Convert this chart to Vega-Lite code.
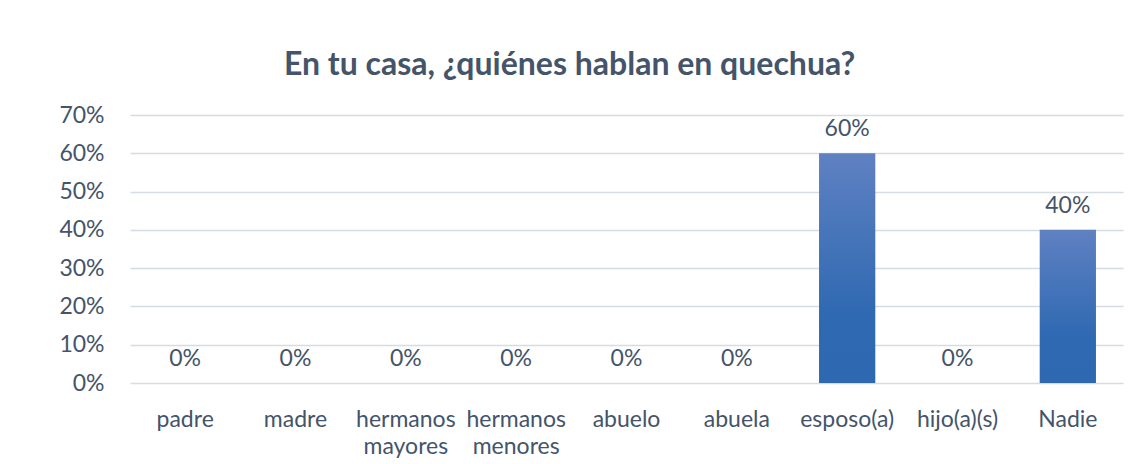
{
  "$schema": "https://vega.github.io/schema/vega-lite/v6.json",
  "width": 993,
  "height": 268,
  "autosize": {"type": "none"},
  "padding": {"left": 130, "top": 115, "right": 16, "bottom": 81},
  "background": "white",
  "title": {
    "text": "En tu casa, ¿quiénes hablan en quechua?",
    "font": "Lato",
    "fontSize": 32,
    "fontWeight": "bold",
    "color": "#44546A",
    "anchor": "middle",
    "dx": -57,
    "offset": 22
  },
  "data": {
    "values": [
      {"cat": "padre", "v": 0},
      {"cat": "madre", "v": 0},
      {"cat": "hermanos mayores", "v": 0},
      {"cat": "hermanos menores", "v": 0},
      {"cat": "abuelo", "v": 0},
      {"cat": "abuela", "v": 0},
      {"cat": "esposo(a)", "v": 0.6},
      {"cat": "hijo(a)(s)", "v": 0},
      {"cat": "Nadie", "v": 0.4}
    ]
  },
  "encoding": {
    "x": {
      "field": "cat",
      "type": "nominal",
      "sort": null,
      "scale": {"paddingInner": 0.49, "paddingOuter": 0.245},
      "axis": {
        "title": null,
        "labelAngle": 0,
        "labelExpr": "split(datum.label, ' ')",
        "labelFont": "Lato",
        "labelFontSize": 23,
        "labelColor": "#44546A",
        "labelPadding": 25,
        "labelLineHeight": 27,
        "labelOverlap": false,
        "labelBound": false,
        "domain": false,
        "ticks": false
      }
    },
    "y": {
      "field": "v",
      "type": "quantitative",
      "scale": {"domain": [0, 0.7]},
      "axis": {
        "title": null,
        "format": ".0%",
        "values": [0, 0.1, 0.2, 0.3, 0.4, 0.5, 0.6, 0.7],
        "labelFont": "Lato",
        "labelFontSize": 23,
        "labelColor": "#44546A",
        "labelPadding": 26,
        "labelOverlap": false,
        "domain": false,
        "ticks": false,
        "gridColor": "#D6DCE4",
        "gridWidth": 1.5
      }
    }
  },
  "layer": [
    {
      "mark": {
        "type": "bar",
        "color": {
          "gradient": "linear",
          "x1": 0, "y1": 1, "x2": 0, "y2": 0,
          "stops": [
            {"offset": 0, "color": "#2E68B1"},
            {"offset": 0.3, "color": "#2F69B2"},
            {"offset": 1, "color": "#5F81C2"}
          ]
        }
      }
    },
    {
      "mark": {
        "type": "text",
        "font": "Lato",
        "fontSize": 23,
        "color": "#44546A",
        "baseline": "alphabetic",
        "dy": -17
      },
      "encoding": {
        "text": {"field": "v", "type": "quantitative", "format": ".0%"}
      }
    }
  ],
  "config": {"view": {"stroke": null}}
}
